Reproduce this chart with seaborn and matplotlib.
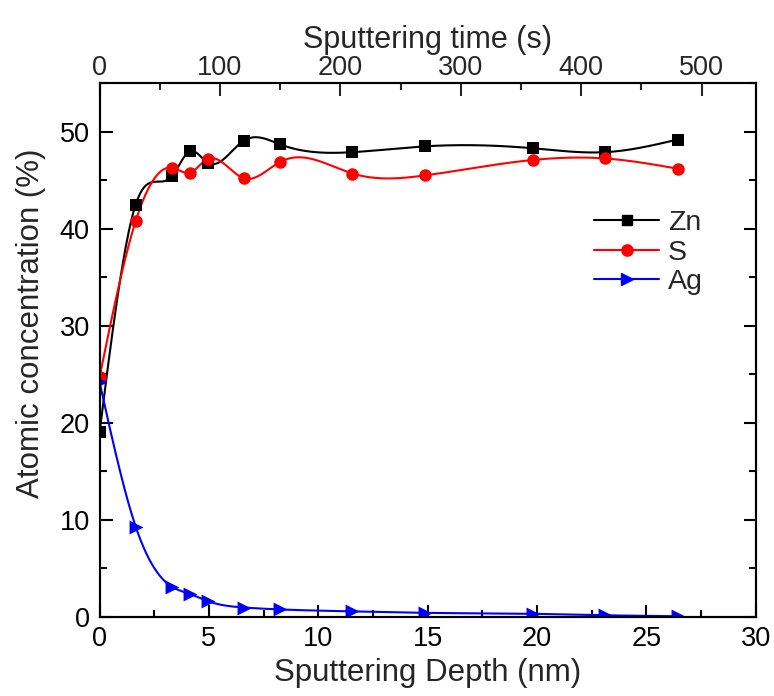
import numpy as np
import pandas as pd
import matplotlib
matplotlib.use("Agg")
import matplotlib.pyplot as plt
from matplotlib.lines import Line2D
from matplotlib.ticker import MultipleLocator
import seaborn as sns

# XPS depth profile of the Ag-doped ZnS film
sputter_time_s = [0, 30, 60, 75, 90, 120, 150, 210, 270, 360, 420, 480]
zn_conc = [19.0, 42.5, 45.4, 48.0, 46.8, 49.1, 48.7, 47.9, 48.5, 48.3, 47.9, 49.2]
s_conc = [24.7, 40.8, 46.3, 45.8, 47.2, 45.2, 46.9, 45.7, 45.5, 47.1, 47.25, 46.2]
ag_conc = [24.2, 9.3, 3.1, 2.35, 1.6, 0.95, 0.75, 0.55, 0.4, 0.3, 0.15, 0.05]
element_names = ["Zn", "S", "Ag"]

SPUTTER_RATE = 30 / 545  # nm per second
depth_nm = np.array(sputter_time_s) * SPUTTER_RATE

FONT = ["Liberation Sans", "DejaVu Sans"]
TICK_FS = 19.5
LABEL_FS = 22.5
TOP_LABEL_FS = 22
LEGEND_FS = 20.5


def natural_spline(x, y, n=600):
    """Natural cubic spline through (x, y), evaluated on a dense grid."""
    x = np.asarray(x, float)
    y = np.asarray(y, float)
    h = np.diff(x)
    m = len(x)
    A = np.zeros((m, m))
    b = np.zeros(m)
    A[0, 0] = A[-1, -1] = 1.0
    for i in range(1, m - 1):
        A[i, i - 1] = h[i - 1]
        A[i, i] = 2 * (h[i - 1] + h[i])
        A[i, i + 1] = h[i]
        b[i] = 6 * ((y[i + 1] - y[i]) / h[i] - (y[i] - y[i - 1]) / h[i - 1])
    M = np.linalg.solve(A, b)
    xs = np.linspace(x[0], x[-1], n)
    idx = np.clip(np.searchsorted(x, xs) - 1, 0, m - 2)
    x0, x1 = x[idx], x[idx + 1]
    hh = x1 - x0
    t0, t1 = x1 - xs, xs - x0
    ys = (M[idx] * t0 ** 3 + M[idx + 1] * t1 ** 3) / (6 * hh) \
        + (y[idx] / hh - M[idx] * hh / 6) * t0 \
        + (y[idx + 1] / hh - M[idx + 1] * hh / 6) * t1
    return xs, ys


sns.set_style("ticks")
plt.rcParams["font.family"] = FONT
plt.rcParams["axes.linewidth"] = 1.5

fig = plt.figure(figsize=(7.74, 6.96), dpi=100)
ax = fig.add_axes([0.1286, 0.1139, 0.848, 0.7664])

series = [
    (zn_conc, "black", "s", 8.2),
    (s_conc, "#ff0000", "o", 9.0),
    (ag_conc, "#0000ff", ">", 10),
]

handles = []
for name, (conc, color, marker, ms) in zip(element_names, series):
    xs, ys = natural_spline(depth_nm, conc)
    sns.lineplot(x=xs, y=ys, ax=ax, color=color, linewidth=1.5,
                 sort=False, estimator=None)
    pts = pd.DataFrame({"depth": depth_nm, "conc": conc})
    sns.scatterplot(data=pts, x="depth", y="conc", ax=ax, color=color,
                    marker=marker, s=ms ** 2, edgecolor=color,
                    linewidth=0, zorder=3)
    handles.append(Line2D([0], [0], color=color, linewidth=1.5,
                          marker=marker, markersize=ms * 0.9,
                          markeredgecolor=color, label=name))

ax.set_xlim(0, 30)
ax.set_ylim(0, 55)
ax.xaxis.set_major_locator(MultipleLocator(5))
ax.xaxis.set_minor_locator(MultipleLocator(2.5))
ax.yaxis.set_major_locator(MultipleLocator(10))
ax.yaxis.set_minor_locator(MultipleLocator(5))
ax.tick_params(which="both", direction="in", top=False, right=True,
               width=1.5, labelsize=TICK_FS, pad=7, colors="black")
ax.tick_params(which="major", length=9)
ax.tick_params(which="minor", length=5)
ax.set_xlabel("Sputtering Depth (nm)", fontsize=LABEL_FS, labelpad=4)
ax.set_ylabel("Atomic concentration (%)", fontsize=LABEL_FS)
ax.yaxis.set_label_coords(-0.082, 0.55)
for sp in ax.spines.values():
    sp.set_visible(True)
    sp.set_color("black")
    sp.set_linewidth(1.5)

ax_top = ax.twiny()
ax_top.set_xlim(0, 30 / SPUTTER_RATE)
ax_top.xaxis.set_major_locator(MultipleLocator(100))
ax_top.xaxis.set_minor_locator(MultipleLocator(50))
ax_top.tick_params(which="both", direction="in", width=1.5,
                   labelsize=TICK_FS, pad=2)
ax_top.tick_params(which="major", length=9)
ax_top.tick_params(which="minor", length=5)
ax_top.set_xlabel("Sputtering time (s)", fontsize=TOP_LABEL_FS, labelpad=5)
for sp in ax_top.spines.values():
    sp.set_color("black")
    sp.set_linewidth(1.5)

ax.legend(handles=handles, loc="upper left", bbox_to_anchor=(0.753, 0.762),
          frameon=False, fontsize=LEGEND_FS, handlelength=2.3,
          handletextpad=0.3, labelspacing=0.12, borderpad=0,
          borderaxespad=0)

fig.savefig("out.png", dpi=100)
